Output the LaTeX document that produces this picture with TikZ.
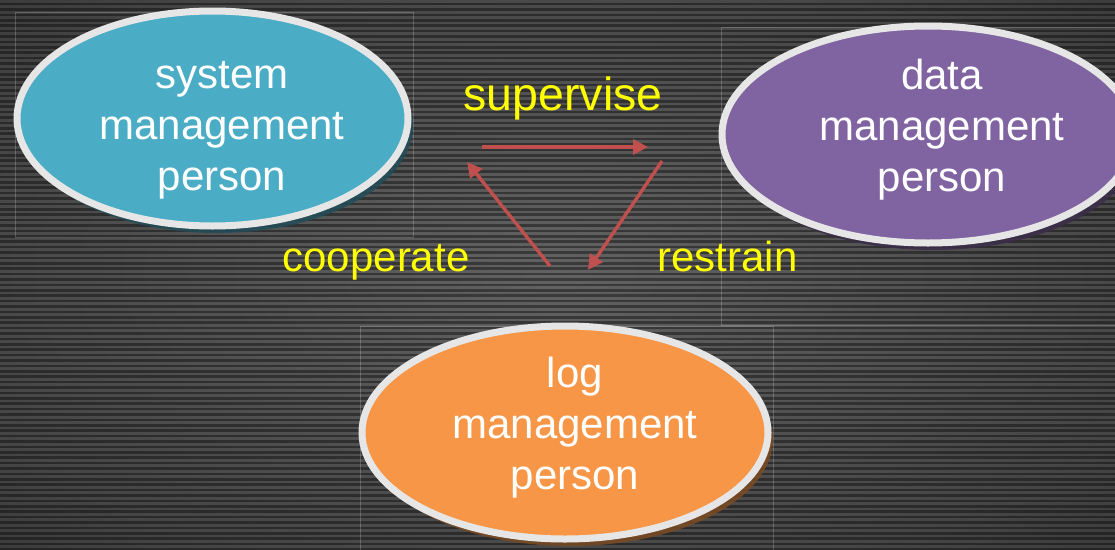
\documentclass[tikz,border=0pt]{standalone}
\usepackage{fontspec}
\setmainfont{Liberation Sans}
\usetikzlibrary{shapes.geometric,arrows.meta,shadows}

\definecolor{sysfill}{HTML}{4BACC6}
\definecolor{datafill}{HTML}{8064A2}
\definecolor{logfill}{HTML}{F79646}
\definecolor{rimgray}{HTML}{E6E6E6}
\definecolor{arrowred}{HTML}{C0504D}
\definecolor{labelyellow}{HTML}{FFFF00}
\definecolor{glowin}{HTML}{626262}
\definecolor{glowmid}{HTML}{444444}
\definecolor{glowout}{HTML}{262626}

% soft light spot behind the diagram
\pgfdeclareradialshading{glow}{\pgfpoint{0bp}{0bp}}{%
  color(0bp)=(glowin); color(30bp)=(glowmid); color(50bp)=(glowout)}

\begin{document}
\begin{tikzpicture}[x=1pt,y=-1pt,
  role/.style={ellipse, draw=rimgray, line width=7pt, inner sep=0pt},
  roletext/.style={text=white, font=\fontsize{42}{51}\selectfont, align=center, inner sep=0pt},
  relation/.style={text=labelyellow, font=\fontsize{42}{51}\selectfont, anchor=base, inner sep=0pt},
  flow/.style={draw=arrowred, line width=3.4pt, -{Triangle[length=15pt,width=15pt]}},
  placeholder/.style={draw=white, draw opacity=0.2, line width=0.6pt}]

\useasboundingbox (0,0) rectangle (1115,549);
\clip (0,0) rectangle (1115,549);

% striped dark background
\shade[shading=glow] (0,0) rectangle (1115,549);
\foreach \k in {0,...,101}
  \fill[black, fill opacity=0.4] (0,{\k*5.4+2.7}) rectangle (1115,{\k*5.4+5.4});

% faint text-box outlines
\draw[placeholder] (15,12) rectangle (413,237);
\draw[placeholder] (721,27) rectangle (1125,325);
\draw[placeholder] (360,326) rectangle (773,560);

% the three roles
\node[role, fill=sysfill, minimum width=391pt, minimum height=215pt,
      drop shadow={shadow xshift=5pt, shadow yshift=-7pt, fill=sysfill!45!black, opacity=0.85}]
  (sys) at (212.5,118.5) {};
\node[role, fill=datafill, minimum width=412pt, minimum height=217pt,
      drop shadow={shadow xshift=5pt, shadow yshift=-7pt, fill=datafill!45!black, opacity=0.85}]
  (data) at (928,134.5) {};
\node[role, fill=logfill, minimum width=406pt, minimum height=213pt,
      drop shadow={shadow xshift=5pt, shadow yshift=-7pt, fill=logfill!50!black, opacity=0.85}]
  (log) at (565,432.5) {};

\node[roletext] (systext) at (222,130) {system\\management\\person};
\node[roletext] (datatext) at (942,129.5) {data\\management\\person};
\node[roletext] (logtext) at (575,428) {log\\management\\person};

% relations between the roles
\coordinate (supA) at (482,147);
\coordinate (supB) at (648,147);
\coordinate (resA) at (662,161);
\coordinate (resB) at (588,270);
\coordinate (coopA) at (550,266);
\coordinate (coopB) at (467,162);

\draw[flow] (supA) -- (supB);
\draw[flow] (resA) -- (resB);
\draw[flow] (coopA) -- (coopB);

\node[relation, font=\fontsize{46.5}{56}\selectfont] (supervise) at (563,110.5) {supervise};
\node[relation] (cooperate) at (376,271) {cooperate};
\node[relation] (restrain) at (727.5,271) {restrain};
\end{tikzpicture}
\end{document}
